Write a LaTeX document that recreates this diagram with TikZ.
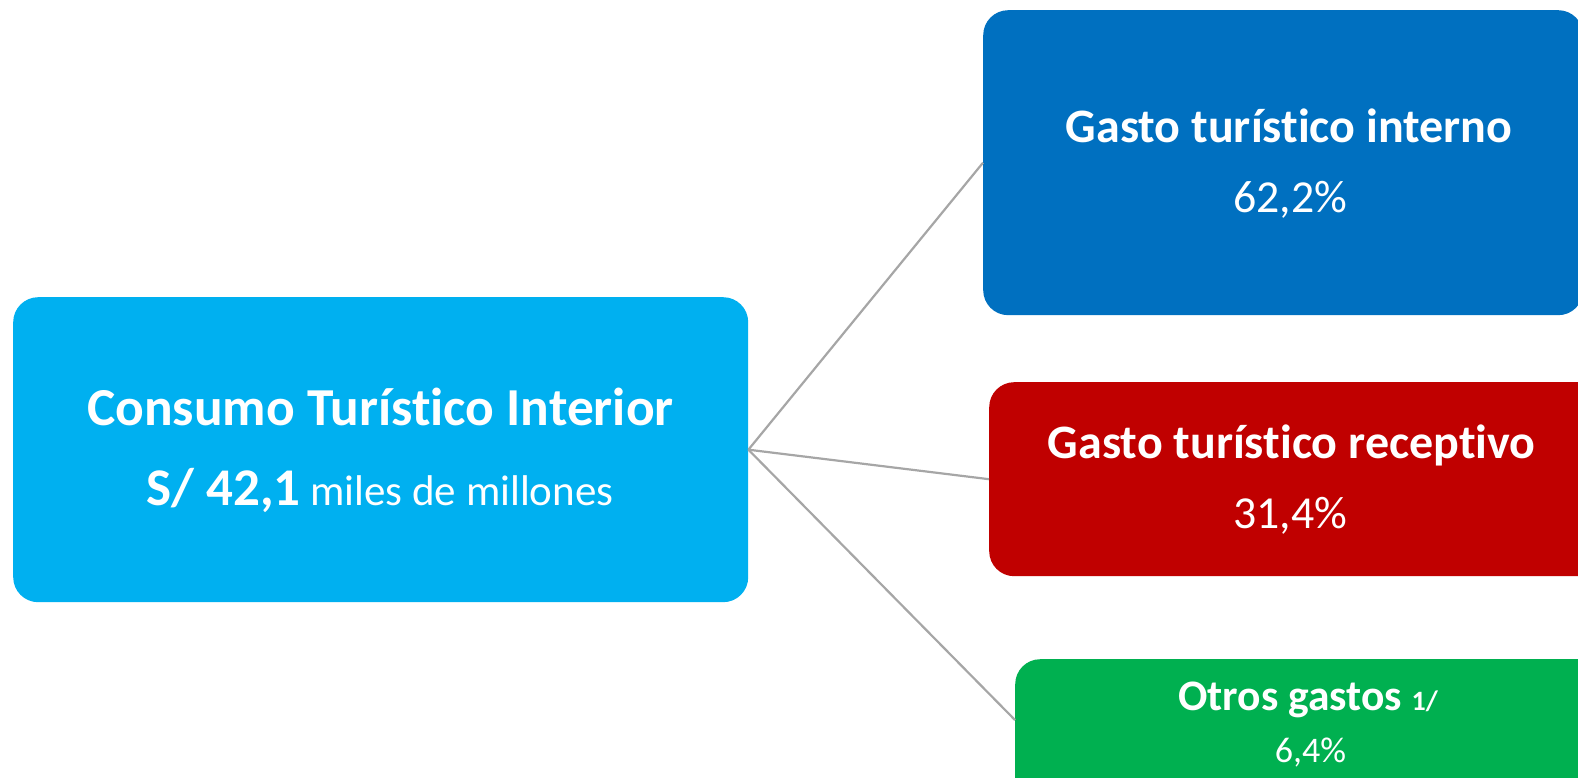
\documentclass[tikz,border=0pt]{standalone}
\usepackage{fontspec}
\setmainfont{Carlito}[Ligatures={NoCommon}]
\definecolor{ctiblue}{HTML}{00B0F0}
\definecolor{intblue}{HTML}{0070C0}
\definecolor{recred}{HTML}{C00000}
\definecolor{othgreen}{HTML}{00B050}
\definecolor{linkgray}{HTML}{A6A6A6}
\begin{document}
\begin{tikzpicture}[x=1pt,y=1pt]
\useasboundingbox (0,0) rectangle (1578,777);
\clip (0,0) rectangle (1578,777);
\tikzset{
  box/.style={rectangle, rounded corners=25pt, inner sep=0pt, anchor=north west},
  txt/.style={text=white, anchor=base, inner sep=0pt},
  link/.style={draw=linkgray, line width=2.2pt}
}
\node[box, fill=ctiblue, minimum width=735pt, minimum height=305pt] (cti) at (13,480) {};
\node[box, fill=intblue, minimum width=600pt, minimum height=305pt] (int) at (983,767) {};
\node[box, fill=recred, minimum width=620pt, minimum height=194pt] (rec) at (989,395) {};
\node[box, fill=othgreen, minimum width=600pt, minimum height=160pt] (oth) at (1015,118) {};
\coordinate (othin) at ([yshift=-61pt]oth.north west);

\draw[link] (cti.east) -- (int.west);
\draw[link] (cti.east) -- (rec.west);
\draw[link] (cti.east) -- (othin);

\node[txt, font=\fontsize{53.4}{60}\selectfont\bfseries] (t1) at (380.4,352) {Consumo Turístico Interior};
\node[txt, font=\fontsize{43}{52}\selectfont] (t2) at (380,272) {{\fontsize{53}{60}\selectfont\bfseries S/ 42,1} miles de millones};
\node[txt, font=\fontsize{48}{56}\selectfont\bfseries] (t3) at (1289,634) {Gasto turístico interno};
\node[txt, font=\fontsize{45.8}{54}\selectfont] (t4) at (1290,564) {62,2\%};
\node[txt, font=\fontsize{48}{56}\selectfont\bfseries] (t5) at (1291.7,319) {Gasto turístico receptivo};
\node[txt, font=\fontsize{45.8}{54}\selectfont] (t6) at (1290,249) {31,4\%};
\node[txt, font=\fontsize{43.5}{50}\selectfont\bfseries] (t7) at (1308,67) {Otros gastos {\fontsize{28}{32}\selectfont 1/}};
\node[txt, font=\fontsize{36}{43}\selectfont] (t8) at (1310.5,14.3) {6,4\%};
\end{tikzpicture}
\end{document}
